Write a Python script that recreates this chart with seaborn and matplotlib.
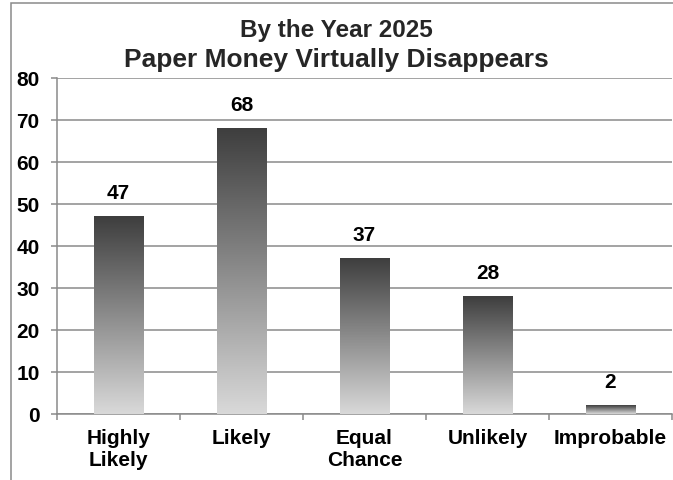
import numpy as np
import matplotlib
matplotlib.use("Agg")
import matplotlib.pyplot as plt
import seaborn as sns
from matplotlib.patches import Rectangle
from matplotlib.colors import LinearSegmentedColormap

categories = ["Highly\nLikely", "Likely", "Equal\nChance", "Unlikely", "Improbable"]
values = [47, 68, 37, 28, 2]
yticks = [0, 10, 20, 30, 40, 50, 60, 70, 80]
title1 = "By the Year 2025"
title2 = "Paper Money Virtually Disappears"

sns.set_theme(style="white")
plt.rcParams['font.family'] = ['Liberation Sans', 'DejaVu Sans']
plt.rcParams['font.weight'] = 'bold'

GRID = "#8a8a8a"
FS = 15
fig = plt.figure(figsize=(6.73, 4.8), dpi=100)
ax = fig.add_axes([57/673, 1-414/480, 615/673, 336/480])

sns.barplot(x=categories, y=values, width=0.405, color="#808080", ax=ax, zorder=3)

cmap = LinearSegmentedColormap.from_list("g", ["#d9d9d9", "#3e3e3e"])
grad = np.linspace(0, 1, 256).reshape(-1, 1)
for p, v in zip(ax.patches, values):
    x0, y0 = p.get_x(), p.get_y()
    w, h = p.get_width(), p.get_height()
    p.set_facecolor("none")
    p.set_edgecolor("none")
    ax.imshow(grad, extent=[x0, x0 + w, y0, y0 + h], origin="lower", aspect="auto",
              cmap=cmap, zorder=3, interpolation="bilinear")
    ax.annotate(str(v), (x0 + w/2, y0 + h), xytext=(0, 9.5), textcoords="offset points",
                ha="center", va="bottom", fontsize=FS, fontweight="bold", color="black")

ax.set_xlim(-0.5, len(categories) - 0.5)
ax.set_ylim(0, 80)
ax.set_yticks(yticks)
ax.set_yticklabels([str(t) for t in yticks])
ax.yaxis.grid(True, color=GRID, linewidth=1.1, zorder=0)
ax.xaxis.grid(False)
ax.set_axisbelow(True)

ax.set_xticks(np.arange(len(categories)))
ax.set_xticks(np.arange(len(categories) + 1) - 0.5, minor=True)
ax.tick_params(axis="x", which="major", length=0, pad=11, labelsize=FS)
ax.tick_params(axis="x", which="minor", length=4.5, width=1.1, color=GRID, bottom=True, direction="out")
ax.tick_params(axis="y", length=4.5, width=1.1, color=GRID, left=True, pad=8, labelsize=FS, direction="out")
for lab in ax.get_xticklabels() + ax.get_yticklabels():
    lab.set_fontweight("bold")
    lab.set_color("black")
ax.set_xlabel("")
ax.set_ylabel("")

for side in ["top", "right"]:
    ax.spines[side].set_visible(False)
for side in ["left", "bottom"]:
    ax.spines[side].set_color(GRID)
    ax.spines[side].set_linewidth(1.1)

fig.text(0.5, 1 - 37/480, title1, ha="center", va="baseline", fontsize=17.5, fontweight="bold")
fig.text(0.5, 1 - 67/480, title2, ha="center", va="baseline", fontsize=19, fontweight="bold")

fig.patches.append(Rectangle((11.5/673, -0.2), 1.5, 1.2 - 3/480, transform=fig.transFigure,
                             fill=False, edgecolor=GRID, linewidth=1.1, clip_on=False))

fig.savefig("out.png", dpi=100)
